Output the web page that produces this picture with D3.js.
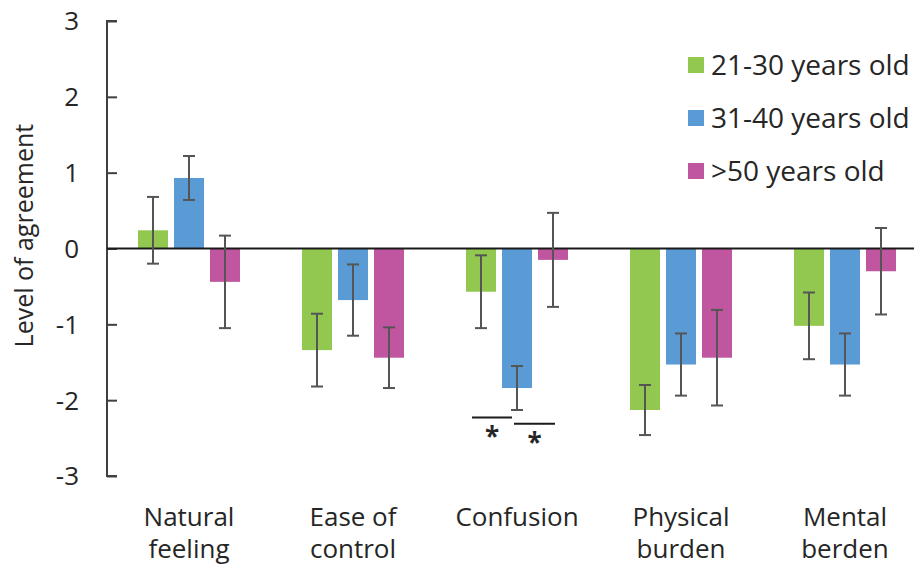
<!DOCTYPE html>
<html><head><meta charset="utf-8">
<script src="https://cdn.jsdelivr.net/npm/d3@7"></script>
<style>body{margin:0;background:#fff}svg{display:block}text{font-family:"Open Sans",sans-serif;fill:#262626}</style>
</head><body><svg id="c" width="914" height="574"></svg>
<script>
const categories = ["Natural feeling","Ease of control","Confusion","Physical burden","Mental berden"];
const categoryLines = [["Natural","feeling"],["Ease of","control"],["Confusion"],["Physical","burden"],["Mental","berden"]];
const seriesNames = ["21-30 years old","31-40 years old",">50 years old"];
const values21_30 = [0.24,-1.34,-0.57,-2.13,-1.02];
const errors21_30 = [0.44,0.48,0.48,0.33,0.44];
const values31_40 = [0.93,-0.68,-1.84,-1.53,-1.53];
const errors31_40 = [0.29,0.47,0.29,0.41,0.41];
const valuesOver50 = [-0.44,-1.44,-0.15,-1.44,-0.30];
const errorsOver50 = [0.61,0.40,0.62,0.63,0.57];
const yTicks = [-3,-2,-1,0,1,2,3];
const colors = ["#92C850","#5B9BD5","#C0569F"];
// significance markers: category, from series, to series, level
const sigMarks = [
  {cat:"Confusion", from:0, to:1, y:-2.23, label:"*"},
  {cat:"Confusion", from:1, to:2, y:-2.31, label:"*"}
];

const allVals=[values21_30,values31_40,valuesOver50];
const allErr=[errors21_30,errors31_40,errorsOver50];
const svg=d3.select("#c");
const x=d3.scaleBand().domain(categories).range([107,927]);
const x1=d3.scaleBand().domain(d3.range(3)).range([31,133]).paddingInner(6/36);
const y=d3.scaleLinear().domain([-3,3]).range([476,21]);

// y axis
const ya=svg.append("g").attr("transform","translate(107,0)")
  .call(d3.axisRight(y).tickValues(yTicks).tickSize(10).tickFormat(""));
ya.select(".domain").attr("stroke","#404040").attr("stroke-width",2).attr("d",`M10,${y(3)}H0V${y(-3)}H10`);
ya.selectAll(".tick line").attr("stroke","#404040").attr("stroke-width",2);
svg.append("g").selectAll("text").data(yTicks).join("text")
  .attr("x",79).attr("y",d=>y(d)).attr("dy","0.36em").attr("text-anchor","end")
  .style("font-size","26px").text(d=>d);
svg.append("text").attr("transform",`translate(33,${y(0.17)}) rotate(-90)`)
  .attr("text-anchor","middle").style("font-size","25px").text("Level of agreement");

// bars
const data=[];
categories.forEach((c,i)=>allVals.forEach((v,s)=>data.push({c,s,v:v[i],e:allErr[s][i]})));
svg.append("g").selectAll("rect").data(data).join("rect")
  .attr("x",d=>x(d.c)+x1(d.s)).attr("width",x1.bandwidth())
  .attr("y",d=>y(Math.max(0,d.v))).attr("height",d=>Math.abs(y(d.v)-y(0)))
  .attr("fill",d=>colors[d.s]);

// zero line
svg.append("line").attr("x1",107).attr("x2",914).attr("y1",y(0)).attr("y2",y(0))
  .attr("stroke","#1a1a1a").attr("stroke-width",2);

// error bars
const eb=svg.append("g").attr("stroke","#555").attr("stroke-width",2);
data.forEach(d=>{
  const cx=x(d.c)+x1(d.s)+x1.bandwidth()/2;
  eb.append("line").attr("x1",cx).attr("x2",cx).attr("y1",y(d.v+d.e)).attr("y2",y(d.v-d.e));
  [d.v+d.e,d.v-d.e].forEach(t=>eb.append("line").attr("x1",cx-6).attr("x2",cx+6).attr("y1",y(t)).attr("y2",y(t)));
});

// significance
sigMarks.forEach(m=>{
  const a=x(m.cat)+x1(m.from)+6+6*m.from, b=x(m.cat)+x1(m.to)+10+7*m.from;
  svg.append("line").attr("x1",a).attr("x2",b).attr("y1",y(m.y)).attr("y2",y(m.y)).attr("stroke","#1a1a1a").attr("stroke-width",2);
  svg.append("text").attr("x",(a+b)/2).attr("y",y(m.y)+28).attr("text-anchor","middle")
    .style("font-size","26px").style("font-weight","bold").text(m.label);
});

// category labels
categories.forEach((c,i)=>{
  const cx=x(c)+x.bandwidth()/2;
  categoryLines[i].forEach((p,j)=>svg.append("text").attr("x",cx).attr("y",526+32*j)
    .attr("text-anchor","middle").style("font-size","26px").text(p));
});

// legend
seriesNames.forEach((n,i)=>{
  const cy=65+i*53;
  svg.append("rect").attr("x",688).attr("y",cy-8).attr("width",16).attr("height",16).attr("fill",colors[i]);
  svg.append("text").attr("x",711).attr("y",cy).attr("dy","0.36em").style("font-size","28px").text(n);
});
</script></body></html>
